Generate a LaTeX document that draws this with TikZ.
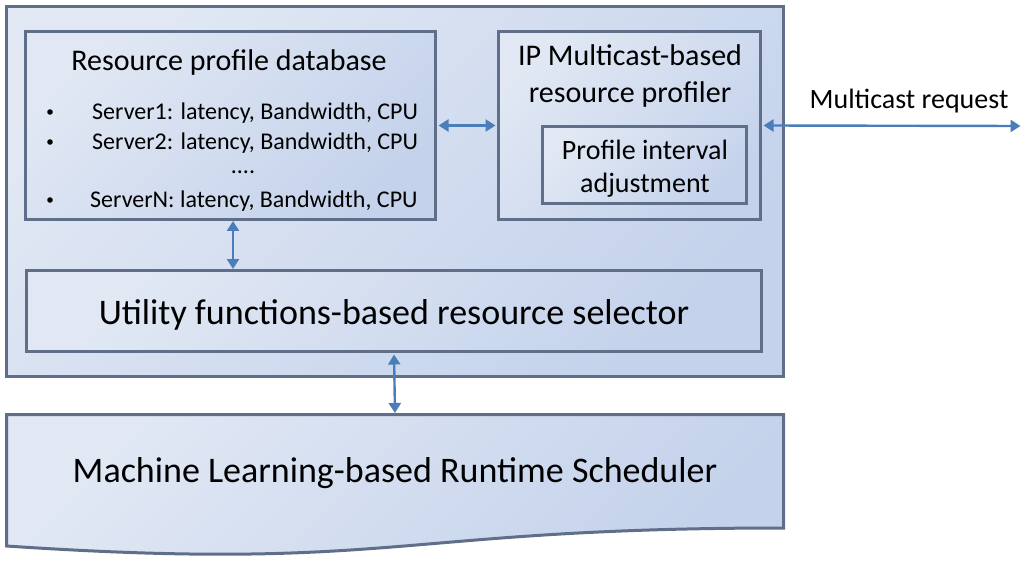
\documentclass[tikz,border=0pt]{standalone}
\usepackage{fontspec}
\setmainfont{Carlito}
\usetikzlibrary{arrows.meta}
\definecolor{bord}{RGB}{95,111,137}
\definecolor{fillA}{RGB}{225,232,244}
\definecolor{fillB}{RGB}{196,210,235}
\definecolor{arr}{RGB}{74,126,187}
\tikzset{
  box/.style={draw=bord, line width=3pt, top color=fillA, bottom color=fillB, shading angle=45,
              inner sep=0pt, rectangle},
  lbl/.style={inner sep=0pt, text=black},
  link/.style={draw=arr, line width=2.4pt, {Triangle[length=10pt,width=12pt]}-{Triangle[length=10pt,width=12pt]}, shorten <=1.5pt, shorten >=1.5pt},
}
\begin{document}
\begin{tikzpicture}[x=1pt,y=-1pt]
\useasboundingbox (0,0) rectangle (1027,561);
% outer container
\node[box, minimum width=777pt, minimum height=370pt] (outer) at (395,191.5) {};
% resource profile database
\node[box, minimum width=410pt, minimum height=188pt] (db) at (230.5,125.5) {};
\node[lbl, font=\fontsize{30}{34}\selectfont] (dbt) at (229,63) {Resource profile database};
\node[lbl, font=\fontsize{24}{28}\selectfont, anchor=west] (s1) at (92,113) {Server1: latency, Bandwidth, CPU};
\node[lbl, font=\fontsize{24}{28}\selectfont, anchor=west] (s2) at (92,143.5) {Server2: latency, Bandwidth, CPU};
\node[lbl, font=\fontsize{24}{28}\selectfont] (sd) at (243,172) {....};
\node[lbl, font=\fontsize{24}{28}\selectfont, anchor=west] (sn) at (90,201.5) {ServerN: latency, Bandwidth, CPU};
\foreach \yy in {112,142,200}{
  \fill (50,\yy) circle (2.8pt);
}
% profiler
\node[box, minimum width=262pt, minimum height=188pt] (prof) at (629.5,125.5) {};
\node[lbl, font=\fontsize{30}{37}\selectfont, align=center] (proft) at (630,76) {IP Multicast-based\\resource profiler};
\node[box, minimum width=204pt, minimum height=77pt] (pia) at (644.5,165) {};
\node[lbl, font=\fontsize{28}{33}\selectfont, align=center] (piat) at (645,168.5) {Profile interval\\adjustment};
% utility selector
\node[box, minimum width=735pt, minimum height=81pt] (util) at (394,311) {};
\node[lbl, font=\fontsize{36}{40}\selectfont] (utilt) at (394,314.5) {Utility functions-based resource selector};
% ML scheduler (document shape)
\path[box] (6.5,414.5) -- (783.5,414.5) -- (783.5,528) .. controls (395,528) and (395,572) .. (6.5,546) -- cycle;
\node[lbl, font=\fontsize{36}{40}\selectfont] (ml) at (395,473) {Machine Learning-based Runtime Scheduler};
\coordinate (mltop) at (395,414.5);
% connectors
\coordinate (ext) at (1022,126);
\node[lbl, font=\fontsize{28}{32}\selectfont] (mreq) at (909,101) {Multicast request};
\draw[link] (db.east) -- (prof.west);
\draw[link] (prof.east) -- (ext);
\draw[link] (233,219.5) -- (233,270.5);
\draw[link] (util.south) -- (mltop);
\end{tikzpicture}
\end{document}
